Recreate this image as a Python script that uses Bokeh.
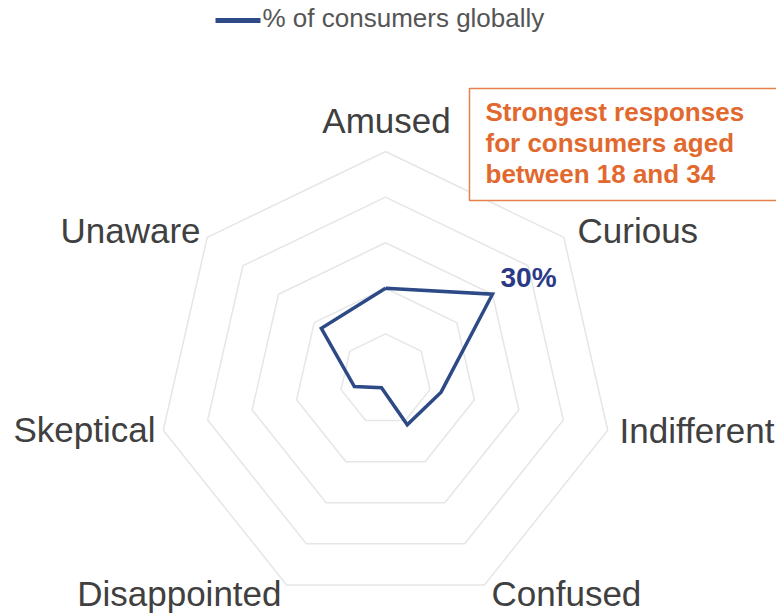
import numpy as np
from bokeh.plotting import figure
from bokeh.models import Range1d
from bokeh.core.properties import value
from bokeh.embed import file_html
from bokeh.resources import INLINE

# ---- data ----
categories = ["Amused", "Curious", "Indifferent", "Confused", "Disappointed", "Skeptical", "Unaware"]
values = [20, 30, 12.5, 11, 2, 7, 18]           # % of consumers globally
ring_levels = [10, 20, 30, 40, 50]
series_name = "% of consumers globally"
highlight_label = "30%"
note_lines = ["Strongest responses", "for consumers aged", "between 18 and 34"]

# ---- layout (pixels) ----
W, H = 776, 615
cx, cy = 385, 379          # centre of the radar in page pixels
k = 4.56                   # pixels per percentage point

def to_data(px, py):
    return (px - cx) / k, (cy - py) / k

p = figure(width=W, height=H, output_backend="svg", toolbar_location=None,
           x_range=Range1d(-cx / k, (W - cx) / k),
           y_range=Range1d(-(H - cy) / k, cy / k),
           min_border=0, outline_line_color=None, background_fill_color="white")
p.axis.visible = False
p.grid.visible = False

n = len(categories)
angles = np.pi / 2 - 2 * np.pi * np.arange(n) / n

# grid rings
for lvl in ring_levels:
    xs = list(lvl * np.cos(angles)) + [lvl * np.cos(angles[0])]
    ys = list(lvl * np.sin(angles)) + [lvl * np.sin(angles[0])]
    p.line(xs, ys, line_color="#e6e6e6", line_width=1.5)

# data polygon
vx = [v * np.cos(a) for v, a in zip(values, angles)]
vy = [v * np.sin(a) for v, a in zip(values, angles)]
p.line(vx + [vx[0]], vy + [vy[0]], line_color="#2d4a86", line_width=3.5, line_join="miter")

# category labels (page pixel anchor, alignment)
label_pos = {
    "Amused": (386, 120, "center"),
    "Curious": (577, 230, "left"),
    "Indifferent": (619, 430, "left"),
    "Confused": (491, 593, "left"),
    "Disappointed": (281, 593, "right"),
    "Skeptical": (155, 429, "right"),
    "Unaware": (200, 230, "right"),
}
for c in categories:
    px, py, al = label_pos[c]
    x, y = to_data(px, py)
    p.text([x], [y], text=[c], text_font=value("Liberation Sans"), text_font_size="35px",
           text_color="#404040", text_align=al, text_baseline="alphabetic")

# highlight value
hx, hy = to_data(500, 277)
p.text([hx], [hy], text=[highlight_label], text_font=value("Liberation Sans"),
       text_font_size="28px", text_font_style="bold", text_color="#2b3a86",
       text_align="left", text_baseline="alphabetic")

# annotation box
bx0, by0 = to_data(469, 88)
bx1, by1 = to_data(790, 200)
p.quad(left=[bx0], right=[bx1], top=[by0], bottom=[by1], fill_color="white",
       line_color="#e8804a", line_width=1.5)
for i, t in enumerate(note_lines):
    tx, ty = to_data(485, 111 + 31 * i)
    p.text([tx], [ty], text=[t], text_font=value("Liberation Sans"), text_font_size="26px",
           text_font_style="bold", text_color="#e2692e", text_align="left",
           text_baseline="alphabetic")

# legend
lx0, ly = to_data(215, 20)
lx1, _ = to_data(260, 20)
p.line([lx0, lx1], [ly, ly], line_color="#2d4a86", line_width=5)
tx, ty = to_data(262, 17)
p.text([tx], [ty], text=[series_name], text_font=value("Liberation Sans"),
       text_font_size="26px", text_color="#555555", text_align="left",
       text_baseline="alphabetic")

open("out.html", "w").write(file_html(p, INLINE))
